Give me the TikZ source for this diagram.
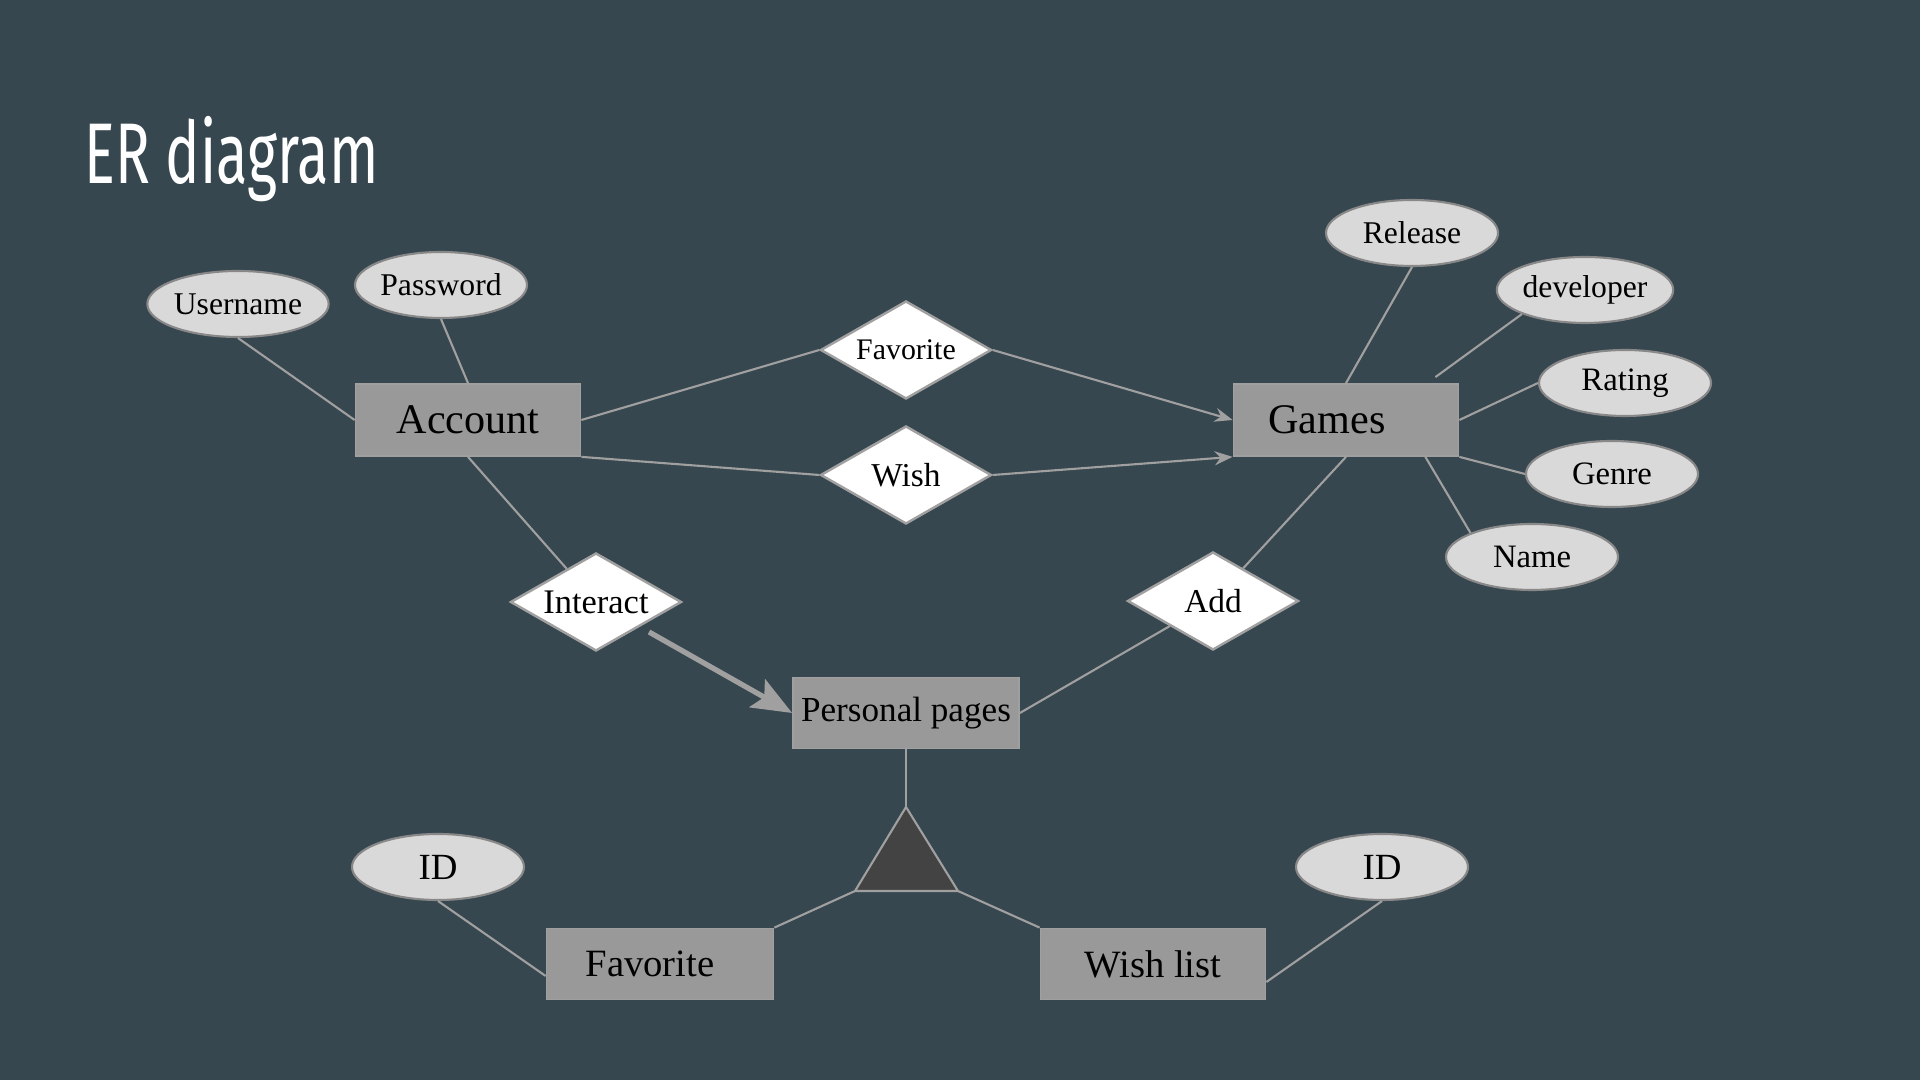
\documentclass[tikz,border=0pt]{standalone}
\usepackage{graphicx}
\usepackage{fontspec}
\setmainfont{Liberation Serif}
\newfontfamily\titlefont{Fira Sans}
\usetikzlibrary{arrows.meta,shapes.geometric,calc}
\definecolor{slate}{RGB}{55,71,79}
\definecolor{boxgray}{RGB}{153,153,153}
\definecolor{wire}{RGB}{160,160,160}
\definecolor{pill}{RGB}{217,217,217}
\definecolor{wedge}{RGB}{67,67,67}
\tikzset{
  >={Stealth[length=1.8mm,width=1.4mm]},
  entity/.style={fill=boxgray,draw=wire,line width=0.5pt,minimum width=22.5mm,
    minimum height=7.2mm,inner sep=0pt,font=\fontsize{#1}{#1}\selectfont},
  entity/.default=12,
  attr/.style={ellipse,fill=pill,draw=wire!85!black,line width=0.6pt,minimum width=17.2mm,
    minimum height=6.6mm,inner sep=0pt,font=\fontsize{#1}{#1}\selectfont},
  attr/.default=9,
  rel/.style={diamond,aspect=2,fill=white,draw=wire,line width=0.7pt,minimum width=17.1mm,
    minimum height=9.8mm,inner sep=0pt,font=\fontsize{#1}{#1}\selectfont},
  rel/.default=9.5,
  link/.style={draw=wire,line width=0.6pt},
  heavy/.style={draw=wire,line width=1.5pt,-{Stealth[length=4mm,width=3.2mm,inset=0.8mm]}},
}

\begin{document}
\begin{tikzpicture}
  \fill[slate] (0,0) rectangle (19.2,10.8);
  \node[anchor=base west,inner sep=0pt,text=white] (title) at (0.84,8.96)
    {\titlefont\fontsize{24.5}{28}\selectfont\scalebox{0.67}[1]{ER diagram}};
  % entities
  \node[entity] (account) at (4.68,6.60) {Account};
  \node[entity] (games) at (13.46,6.60) {Games\rule{0.38cm}{0pt}};
  \node[entity=10,minimum width=22.6mm,minimum height=7.1mm] (pages) at (9.06,3.67) {Personal pages};
  \node[entity=11,minimum width=22.7mm,minimum height=7.1mm] (favbox) at (6.60,1.16) {Favorite\rule{0.2cm}{0pt}};
  \node[entity=11,minimum width=22.5mm,minimum height=7.1mm] (wishbox) at (11.53,1.16) {Wish list};
  % attributes
  \node[attr] (username) at (2.38,7.76) {Username};
  \node[attr] (password) at (4.41,7.95) {Password};
  \node[attr] (release) at (14.12,8.47) {Release};
  \node[attr] (developer) at (15.85,7.90) {developer};
  \node[attr=9.3] (rating) at (16.25,6.97) {Rating};
  \node[attr=9.3] (genre) at (16.12,6.06) {Genre};
  \node[attr=9.3] (name) at (15.32,5.23) {Name};
  \node[attr=10.5] (idfav) at (4.38,2.13) {ID};
  \node[attr=10.5] (idwish) at (13.82,2.13) {ID};
  % relations
  \node[rel=8.5] (relfav) at (9.06,7.30) {Favorite};
  \node[rel] (relwish) at (9.06,6.05) {Wish};
  \node[rel=9.8] (interact) at (5.96,4.78) {Interact};
  \node[rel] (add) at (12.13,4.79) {Add};
  % isa triangle
  \coordinate (tritop) at (9.06,2.73);
  \coordinate (trileft) at (8.55,1.89);
  \coordinate (triright) at (9.58,1.89);
  \filldraw[fill=wedge,draw=wire,line width=0.6pt] (tritop) -- (trileft) -- (triright) -- cycle;
  % links
  \draw[link] (username.south) -- (account.west);
  \draw[link] (password.south) -- (account.north);
  \draw[link] (account.east) -- (relfav.west);
  \draw[link,->] (relfav.east) -- (games.west);
  \draw[link] (account.south east) -- (relwish.west);
  \draw[link,->] (relwish.east) -- (games.south west);
  \draw[link] (account.south) -- (interact);
  \draw[heavy,shorten <=3pt] (interact) -- (pages.west);
  \draw[link] (games.south) -- (add);
  \draw[link] (pages.east) -- (add);
  \draw[link] (release.south) -- (games.north);
  \draw[link] (developer.south west) -- ($(games.north east)+(-0.24,0.06)$);
  \draw[link] (rating.west) -- (games.east);
  \draw[link] (genre.west) -- (games.south east);
  \draw[link] (name.north west) -- ($(games.south)!0.7!(games.south east)$);
  \draw[link] (idfav.south) -- ($(favbox.west)+(0,-0.12)$);
  \draw[link] (idwish.south) -- ($(wishbox.east)+(0,-0.18)$);
  \draw[link] (pages.south) -- (tritop);
  \draw[link] (trileft) -- (favbox.north east);
  \draw[link] (triright) -- (wishbox.north west);
\end{tikzpicture}
\end{document}
